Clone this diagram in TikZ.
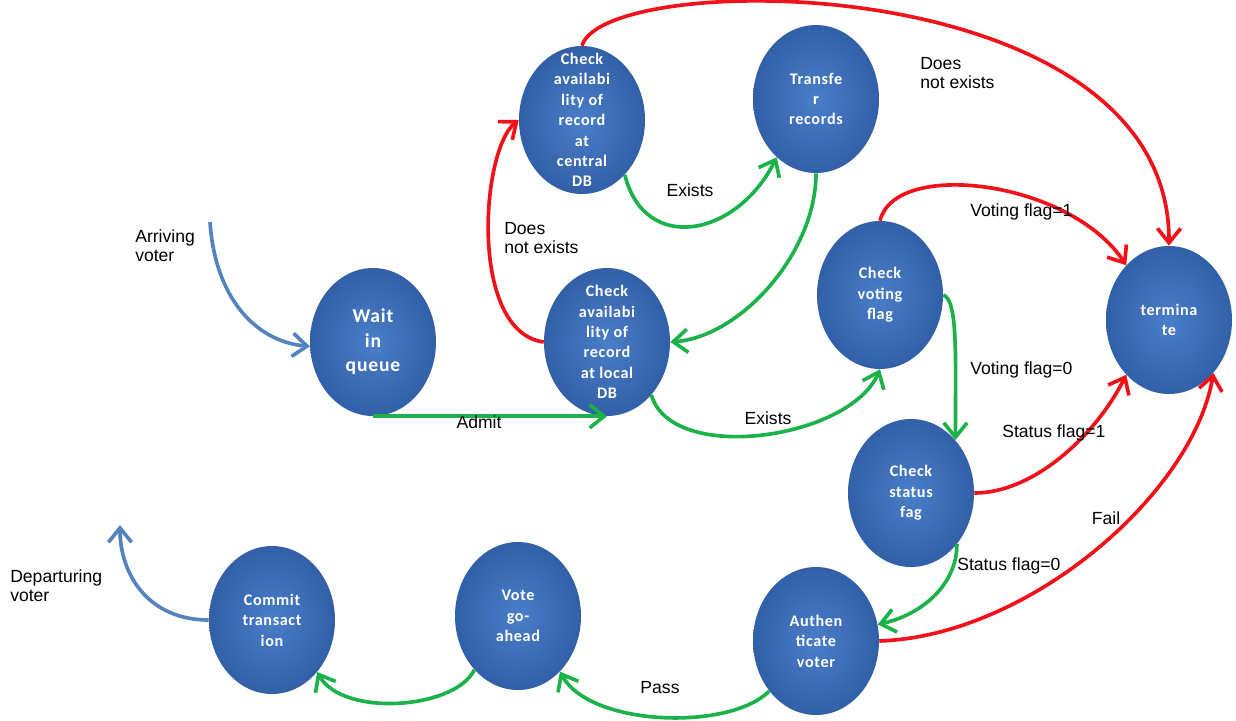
\documentclass[tikz,border=0pt]{standalone}
\usepackage{fontspec}
\setmainfont{Liberation Sans}
\newfontfamily\statefont{Carlito}[LetterSpace=4]
\usetikzlibrary{shapes.geometric,arrows.meta}
\definecolor{statelight}{RGB}{74,126,200}
\definecolor{statedark}{RGB}{50,96,168}
\definecolor{failred}{RGB}{240,18,24}
\definecolor{passgreen}{RGB}{28,178,74}
\definecolor{walkblue}{RGB}{84,132,192}
\begin{document}
\begin{tikzpicture}[x=0.25mm, y=-0.25mm,
        state/.style = {ellipse, minimum width=31.5mm, minimum height=37mm,
            inner xsep=0pt, inner ysep=-18mm, align=center, text=white,
            inner color=statelight, outer color=statedark,
            font=\statefont\bfseries\fontsize{11.5}{14.5}\selectfont},
        lbl/.style = {font=\fontsize{12.5}{13.5}\selectfont, inner sep=0pt, align=left},
        flow/.style = {line width=2.6pt, -{Straight Barb[length=3.6mm,width=5.8mm]}},
        greenflow/.style = {flow, passgreen},
        redflow/.style = {flow, failred},
        blueflow/.style = {flow, walkblue}
    ]
        \useasboundingbox (0,0) rectangle (1236,720);
        \node[state] (cdb) at (582,120) {Check\\availabi\\lity of\\record\\at\\central\\DB};
        \node[state] (tr) at (816,99) {Transfe\\r\\records};
        \node[state, font=\statefont\bfseries\fontsize{14}{17.4}\selectfont] (wq) at (373,342) {Wait\\in\\queue};
        \node[state] (ldb) at (607,342) {Check\\availabi\\lity of\\record\\at local\\DB};
        \node[state] (vf) at (880,295) {Check\\voting\\flag};
        \node[state] (tm) at (1169,320) {termina\\te};
        \node[state] (st) at (911,493) {Check\\status\\fag};
        \node[state] (au) at (816,641) {Authen\\ticate\\voter};
        \node[state] (vg) at (518,616) {Vote\\go-\\ahead};
        \node[state] (ct) at (272,620) {Commit\\transact\\ion};
        \coordinate (arr) at (210,222);
        \coordinate (dep) at (120,525);

        \draw[blueflow] (arr) .. controls +(5,75) and +(-55,-5) .. (wq.184);
        \draw[greenflow] (wq.south) -- (ldb.south);
        \draw[redflow] (ldb.west) .. controls +(-75,-10) and +(-38,30) .. (cdb.west);
        \draw[greenflow] (cdb.-52) .. controls +(20,80) and +(-40,80) .. (tr.-124);
        \draw[greenflow] (tr.south) .. controls +(0,80) and +(70,-5) .. (ldb.east);
        \draw[redflow] (cdb.north) .. controls +(23,-78) and +(1,-278) .. (tm.north);
        \draw[greenflow] (ldb.-50) .. controls +(20,70) and +(-30,70) .. (vf.south);
        \draw[redflow] (vf.north) .. controls +(15,-62) and +(-56,-85) .. (tm.128);
        \draw[greenflow] (vf.east) .. controls +(15,5) and +(0,-80) .. (st.50);
        \draw[redflow] (st.east) .. controls +(60,0) and +(-30,60) .. (tm.232);
        \draw[greenflow] (st.-48) .. controls +(0,40) and +(45,-10) .. (au.15);
        \draw[redflow] (au.east) .. controls +(150,-5) and +(-20,120) .. (tm.-50);
        \draw[greenflow] (au.227) .. controls +(-40,40) and +(30,55) .. (vg.-53);
        \draw[greenflow] (vg.231) .. controls +(-20,40) and +(25,45) .. (ct.-49);
        \draw[blueflow] (ct.west) .. controls +(-60,0) and +(0,50) .. (dep);

        \node[lbl, anchor=west] (arrtext) at (135,246) {Arriving\\voter};
        \node[lbl, anchor=west] (cdbno) at (504,238) {Does\\not exists};
        \node[lbl] (cdbyes) at (690,190) {Exists};
        \node[lbl, anchor=west] (tmno) at (920,73) {Does\\not exists};
        \node[lbl, anchor=west] (vfone) at (970,212) {Voting flag=1};
        \node[lbl, anchor=west] (vfzero) at (970,370) {Voting flag=0};
        \node[lbl] (ldbyes) at (768,418) {Exists};
        \node[lbl] (admit) at (479,422) {Admit};
        \node[lbl, anchor=west] (stone) at (1002,433) {Status flag=1};
        \node[lbl] (fail) at (1106,518) {Fail};
        \node[lbl, anchor=west] (stzero) at (957,566) {Status flag=0};
        \node[lbl] (pass) at (660,688) {Pass};
        \node[lbl, anchor=west] (deptext) at (10,586) {Departuring\\voter};
\end{tikzpicture}
\end{document}
